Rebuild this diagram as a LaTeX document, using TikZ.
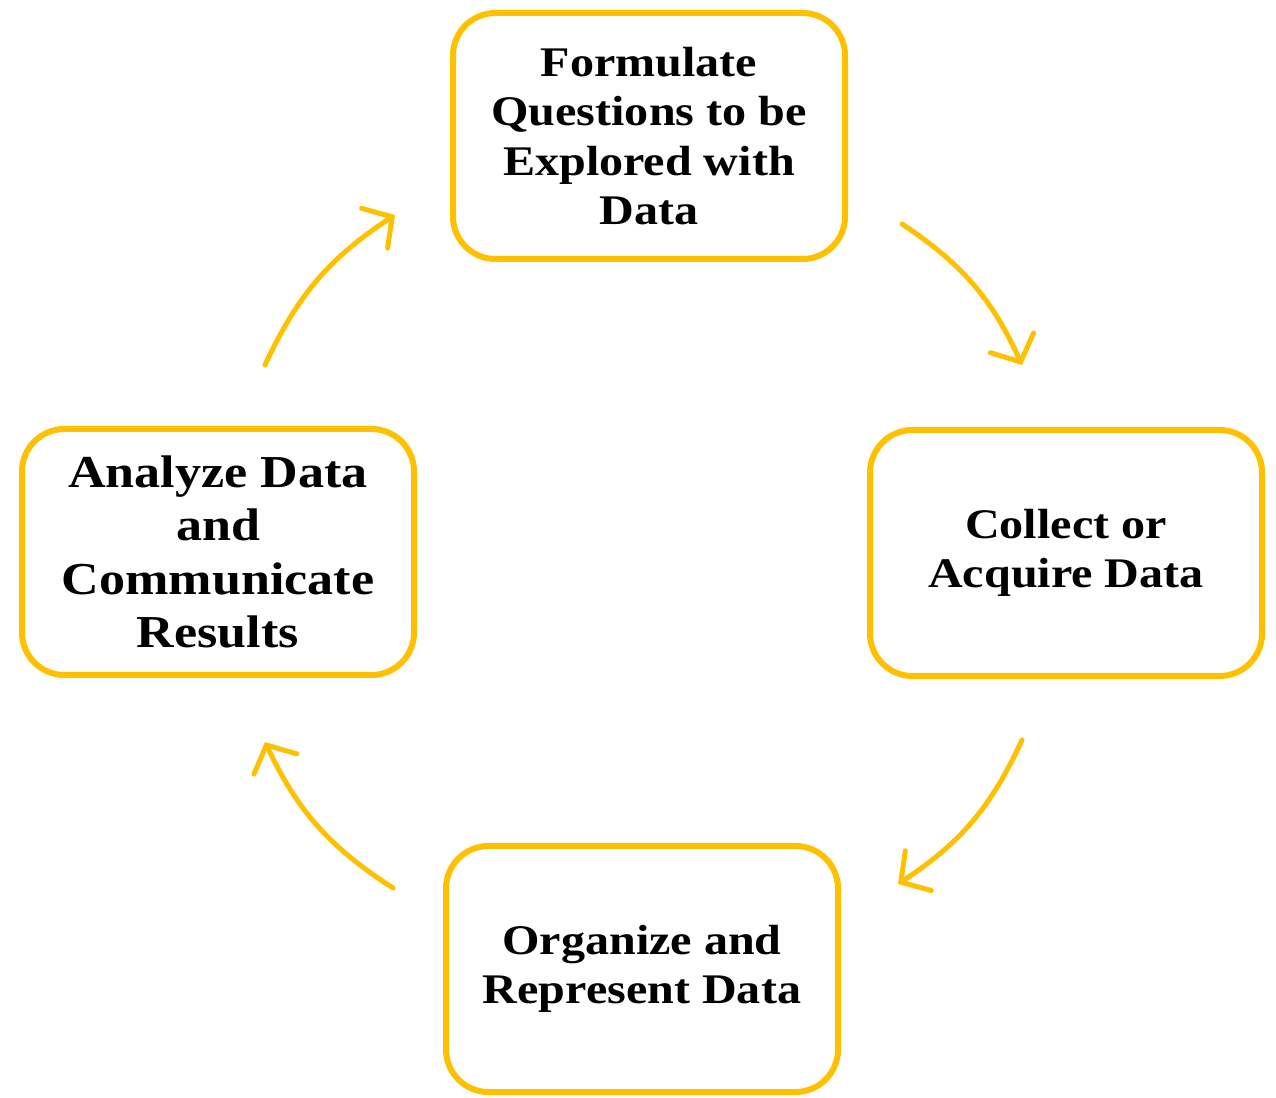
\documentclass[tikz,border=0pt]{standalone}
\usepackage{xcolor}
\usepackage{fontspec}
\setmainfont{Liberation Serif}[FakeStretch=1.14]
\usepackage{tikz}
\usetikzlibrary{arrows.meta}

\definecolor{stepgold}{HTML}{FFC000}

\tikzset{
    stage/.style={draw=stepgold, line width=0.12cm, rounded corners=0.85cm,
        minimum width=7.84cm, minimum height=4.92cm, align=center,
        font=\bfseries\fontsize{24}{28}\selectfont},
    cycle/.style={draw=stepgold, line width=0.1cm, line cap=round,
        -{Straight Barb[length=0.42cm,width=0.95cm,line cap=round]}, bend left=16}
}

\begin{document}
\begin{tikzpicture}
    \useasboundingbox (0,0) rectangle (25.52,21.94);
    % the four stages
    \node [stage] (formulate) at (12.98,19.22) {Formulate\\Questions to be\\Explored with\\Data};
    \node [stage] (collect) at (21.32,10.88) {Collect or\\Acquire Data};
    \node [stage] (organize) at (12.84,2.56) {Organize and\\Represent Data};
    \node [stage, font=\bfseries\fontsize{26}{30.5}\selectfont] (analyze) at (4.36,10.90) %
        {Analyze Data\\and\\Communicate\\Results};
    % ends of the arrows
    \coordinate (c1s) at (5.30,14.64);
    \coordinate (c1e) at (7.90,17.64);
    \coordinate (c2s) at (18.04,17.46);
    \coordinate (c2e) at (20.44,14.64);
    \coordinate (c3s) at (20.44,7.14);
    \coordinate (c3e) at (17.96,4.26);
    \coordinate (c4s) at (7.86,4.18);
    \coordinate (c4e) at (5.30,7.10);
    \draw [cycle] (c1s) to (c1e);
    \draw [cycle] (c2s) to (c2e);
    \draw [cycle] (c3s) to (c3e);
    \draw [cycle] (c4s) to (c4e);
\end{tikzpicture}
\end{document}
